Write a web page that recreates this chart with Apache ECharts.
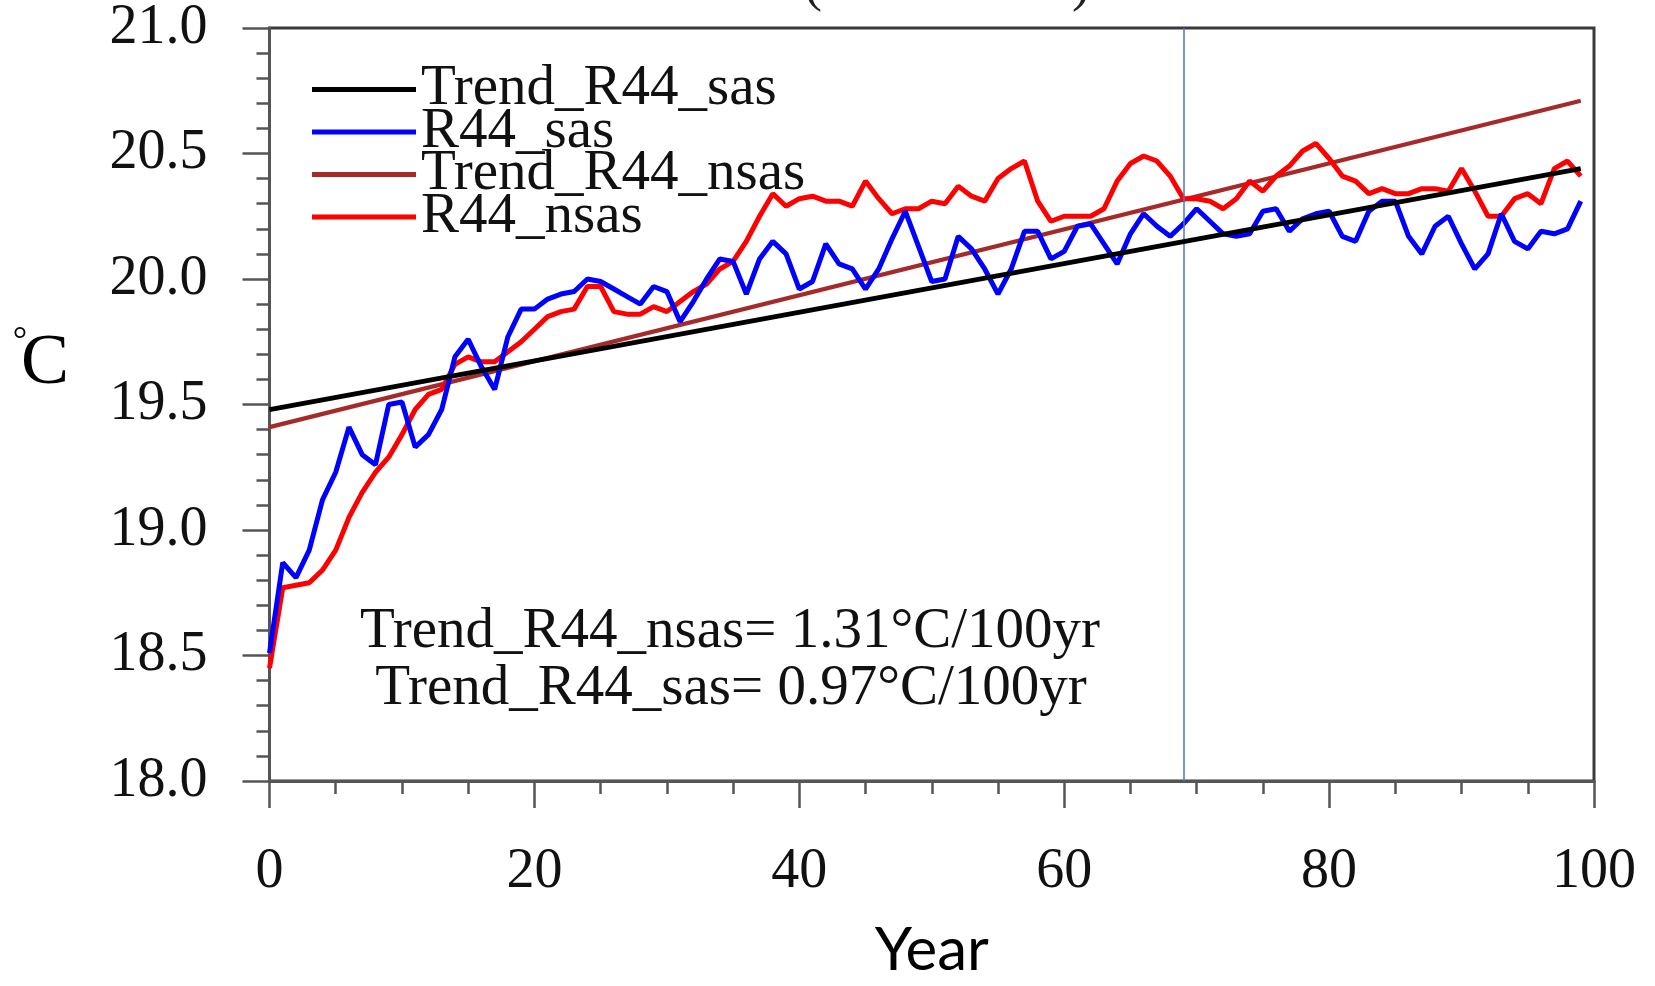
<!DOCTYPE html>
<html>
<head>
<meta charset="utf-8">
<script src="https://cdn.jsdelivr.net/npm/echarts@6/dist/echarts.min.js"></script>
<style>
html,body{margin:0;padding:0;background:#fff;}
#chart{width:1655px;height:986px;}
</style>
</head>
<body>
<div id="chart"></div>
<script>
// ---- data ----
const xTicks = [0, 20, 40, 60, 80, 100];
const yTicks = [18.0, 18.5, 19.0, 19.5, 20.0, 20.5, 21.0];
const seriesNames = ['Trend_R44_sas', 'R44_sas', 'Trend_R44_nsas', 'R44_nsas'];
const years = Array.from({length: 100}, (_, i) => i);
const r44Sas = [
  18.51, 18.87, 18.81, 18.92, 19.12, 19.23, 19.41, 19.30, 19.26, 19.50,
  19.51, 19.33, 19.38, 19.48, 19.69, 19.76, 19.65, 19.56, 19.77, 19.88,
  19.88, 19.92, 19.94, 19.95, 20.00, 19.99, 19.96, 19.93, 19.90, 19.97,
  19.95, 19.83, 19.91, 20.00, 20.08, 20.07, 19.94, 20.08, 20.15, 20.10,
  19.96, 19.99, 20.14, 20.06, 20.04, 19.96, 20.04, 20.16, 20.27, 20.13,
  19.99, 20.00, 20.17, 20.12, 20.04, 19.94, 20.04, 20.19, 20.19, 20.08,
  20.11, 20.21, 20.22, 20.14, 20.06, 20.18, 20.26, 20.21, 20.17, 20.22,
  20.28, 20.23, 20.18, 20.17, 20.18, 20.27, 20.28, 20.19, 20.24, 20.26,
  20.27, 20.17, 20.15, 20.27, 20.31, 20.31, 20.17, 20.10, 20.21, 20.25,
  20.14, 20.04, 20.10, 20.26, 20.15, 20.12, 20.19, 20.18, 20.20, 20.31
];
const r44Nsas = [
  18.45, 18.77, 18.78, 18.79, 18.84, 18.92, 19.05, 19.15, 19.23, 19.29,
  19.38, 19.48, 19.54, 19.56, 19.66, 19.69, 19.67, 19.67, 19.71, 19.75,
  19.80, 19.85, 19.87, 19.88, 19.97, 19.97, 19.87, 19.86, 19.86, 19.89,
  19.87, 19.91, 19.95, 19.98, 20.04, 20.07, 20.15, 20.25, 20.34, 20.29,
  20.32, 20.33, 20.31, 20.31, 20.29, 20.39, 20.32, 20.26, 20.28, 20.28,
  20.31, 20.30, 20.37, 20.33, 20.31, 20.40, 20.44, 20.47, 20.31, 20.23,
  20.25, 20.25, 20.25, 20.28, 20.39, 20.46, 20.49, 20.47, 20.41, 20.32,
  20.32, 20.31, 20.28, 20.32, 20.39, 20.35, 20.41, 20.45, 20.51, 20.54,
  20.48, 20.41, 20.39, 20.34, 20.36, 20.34, 20.34, 20.36, 20.36, 20.35,
  20.44, 20.35, 20.25, 20.25, 20.32, 20.34, 20.30, 20.44, 20.47, 20.41
];
// trend lines: endpoints at year 0 and year 99
const trendYears = [0, 99];
const trendSas = [19.48, 20.44];
const trendNsas = [19.41, 20.71];
const markYear = 69;
const noteLines = ['Trend_R44_nsas= 1.31°C/100yr', 'Trend_R44_sas= 0.97°C/100yr'];
const unitLabel = ['°', 'C'];

const zip = (xs, ys) => xs.map((x, i) => [x, ys[i]]);

const serif = "'Liberation Serif', 'Times New Roman', serif";
const axisCol = '#555555';

const chart = echarts.init(document.getElementById('chart'));
chart.setOption({
  animation: false,
  backgroundColor: '#fff',
  grid: {
    left: 269.5, right: 61, top: 27, bottom: 200,
    show: true, borderColor: '#3a3a3a', borderWidth: 3, containLabel: false
  },
  legend: {
    orient: 'vertical', left: 312, top: 61, padding: 0,
    icon: 'rect', itemWidth: 104, itemHeight: 5, itemGap: -14.5,
    data: seriesNames,
    textStyle: { fontFamily: serif, fontSize: 57, color: '#111' }
  },
  xAxis: {
    type: 'value', min: 0, max: 100, interval: 20,
    axisLine: { show: true, lineStyle: { color: axisCol, width: 3 } },
    axisTick: { show: true, length: 27, lineStyle: { color: axisCol, width: 2.5 } },
    minorTick: { show: true, splitNumber: 4, length: 13, lineStyle: { color: axisCol, width: 2.5 } },
    splitLine: { show: false },
    axisLabel: {
      margin: 63, fontFamily: serif, fontSize: 56, color: '#111',
      customValues: xTicks
    },
    name: 'Year', nameLocation: 'middle', nameGap: 140,
    nameTextStyle: { fontFamily: "Lato, 'Open Sans', sans-serif", fontSize: 60, color: '#000' }
  },
  yAxis: {
    type: 'value', min: 18, max: 21, interval: 0.5,
    axisLine: { show: true, lineStyle: { color: axisCol, width: 3 } },
    axisTick: { show: true, length: 27, lineStyle: { color: axisCol, width: 2.5 } },
    minorTick: { show: true, splitNumber: 5, length: 13, lineStyle: { color: axisCol, width: 2.5 } },
    splitLine: { show: false },
    axisLabel: {
      margin: 62, fontFamily: serif, fontSize: 56, color: '#111',
      formatter: v => { const t = yTicks.find(y => Math.abs(y - v) < 1e-6); return (t !== undefined ? t : v).toFixed(1); }
    }
  },
  graphic: [
    { type: 'text', x: 20, y: 342, style: { text: unitLabel[0], font: "36px 'Liberation Serif', serif", fill: '#000', textAlign: 'center', textVerticalAlign: 'middle' } },
    { type: 'text', x: 45, y: 364, style: { text: unitLabel[1], font: "72px 'Liberation Serif', serif", fill: '#000', textAlign: 'center', textVerticalAlign: 'middle' } },
    { type: 'text', x: 730, y: 632, style: { text: noteLines[0], font: "57px 'Liberation Serif', serif", fill: '#111', textAlign: 'center', textVerticalAlign: 'middle' } },
    { type: 'text', x: 731, y: 689, style: { text: noteLines[1], font: "57px 'Liberation Serif', serif", fill: '#111', textAlign: 'center', textVerticalAlign: 'middle' } },
    { type: 'text', x: 813, y: -14, style: { text: '(', font: "54px 'Liberation Serif', serif", fill: '#222', textAlign: 'center', textVerticalAlign: 'middle' } },
    { type: 'text', x: 1081, y: -14, style: { text: ')', font: "54px 'Liberation Serif', serif", fill: '#222', textAlign: 'center', textVerticalAlign: 'middle' } }
  ],
  series: [
    {
      name: 'Trend_R44_nsas', type: 'line', data: zip(trendYears, trendNsas), symbol: 'none',
      lineStyle: { color: '#a52a2a', width: 4.2 }, itemStyle: { color: '#a52a2a' }, z: 2
    },
    {
      name: 'R44_nsas', type: 'line', data: zip(years, r44Nsas), symbol: 'none',
      lineStyle: { color: '#ff0000', width: 5 }, itemStyle: { color: '#ff0000' }, z: 3
    },
    {
      name: 'R44_sas', type: 'line', data: zip(years, r44Sas), symbol: 'none',
      lineStyle: { color: '#0000ff', width: 5 }, itemStyle: { color: '#0000ff' }, z: 4,
      markLine: {
        silent: true, symbol: 'none', label: { show: false },
        lineStyle: { color: '#4a78c2', width: 1.5, type: 'solid' },
        data: [{ xAxis: markYear }]
      }
    },
    {
      name: 'Trend_R44_sas', type: 'line', data: zip(trendYears, trendSas), symbol: 'none',
      lineStyle: { color: '#000000', width: 4.8 }, itemStyle: { color: '#000000' }, z: 5
    }
  ]
});
</script>
</body>
</html>
